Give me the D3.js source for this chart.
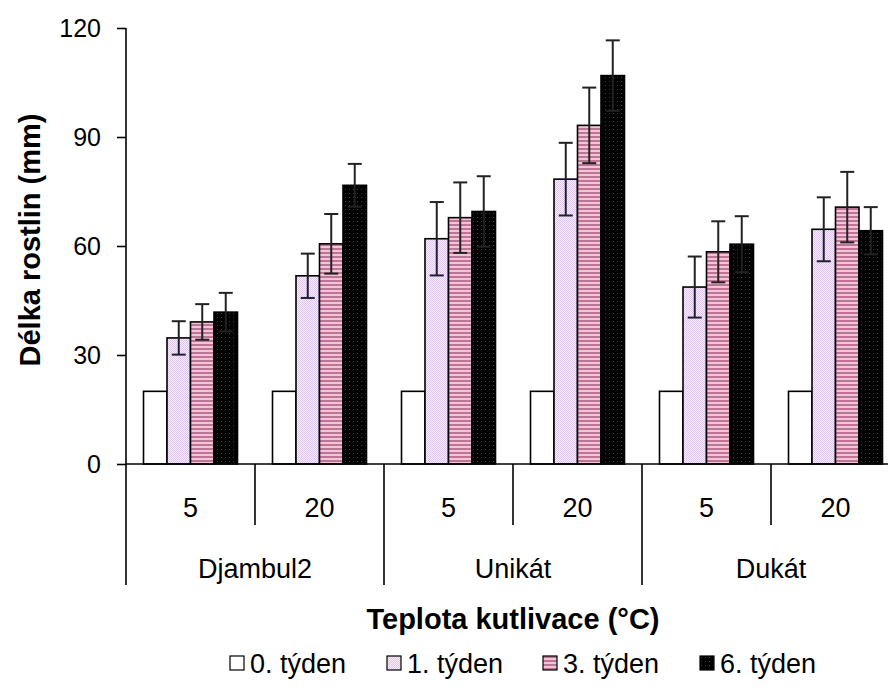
<!DOCTYPE html>
<html>
<head>
<meta charset="utf-8">
<script src="https://cdn.jsdelivr.net/npm/d3@7"></script>
<style>
  html, body { margin: 0; padding: 0; background: #fff; }
  svg { display: block; font-family: "Liberation Sans", Arial, sans-serif; }
</style>
</head>
<body>
<svg id="chart" width="888" height="699"></svg>
<script>
// Plant length by cultivar, cultivation temperature and week
const cultivars = ["Djambul2", "Unikát", "Dukát"];
const temps = ["5", "20"];
const series = ["0. týden", "1. týden", "3. týden", "6. týden"];

// one value per (cultivar, temperature) pair, in order
const week0 = [20, 20, 20, 20, 20, 20];
const week1 = [34.7, 51.8, 62.0, 78.4, 48.7, 64.6];
const week3 = [39.1, 60.6, 67.8, 93.2, 58.4, 70.7];
const week6 = [41.8, 76.7, 69.5, 106.9, 60.5, 64.2];

const err0 = [0, 0, 0, 0, 0, 0];
const err1 = [4.6, 6.1, 10.1, 10.0, 8.4, 8.8];
const err3 = [4.9, 8.2, 9.7, 10.4, 8.4, 9.7];
const err6 = [5.3, 5.9, 9.7, 9.7, 7.7, 6.5];

const yTicks = [0, 30, 60, 90, 120];

const yTitle = "Délka rostlin (mm)";
const xTitle = "Teplota kutlivace (°C)";

const values = [week0, week1, week3, week6];
const errors = [err0, err1, err3, err6];

const categories = [];
cultivars.forEach(c => temps.forEach(t => categories.push(c + "|" + t)));

const svg = d3.select("#chart");

// fill patterns
const defs = svg.append("defs");
const p1 = defs.append("pattern").attr("id", "pat1").attr("patternUnits", "userSpaceOnUse")
  .attr("width", 2).attr("height", 2);
p1.append("rect").attr("width", 2).attr("height", 2).attr("fill", "#f8eefb");
p1.append("rect").attr("width", 1).attr("height", 1).attr("fill", "#dec6ee");
p1.append("rect").attr("x", 1).attr("y", 1).attr("width", 1).attr("height", 1).attr("fill", "#dec6ee");

const p3 = defs.append("pattern").attr("id", "pat3").attr("patternUnits", "userSpaceOnUse")
  .attr("width", 4).attr("height", 4);
p3.append("rect").attr("width", 4).attr("height", 4).attr("fill", "#efc6d6");
p3.append("rect").attr("width", 4).attr("height", 2).attr("fill", "#bf7497");

const p6 = defs.append("pattern").attr("id", "pat6").attr("patternUnits", "userSpaceOnUse")
  .attr("width", 4).attr("height", 4);
p6.append("rect").attr("width", 4).attr("height", 4).attr("fill", "#000");
p6.append("rect").attr("x", 1).attr("y", 1).attr("width", 1).attr("height", 1).attr("fill", "#7a2038");

const fills = ["#ffffff", "url(#pat1)", "url(#pat3)", "url(#pat6)"];

// scales
const y = d3.scaleLinear().domain([0, 120]).range([464, 28]);
const x = d3.scaleBand().domain(categories).range([126, 900]).padding(0);
const xs = d3.scaleBand().domain(series).range([0, x.bandwidth()])
  .paddingInner(0).paddingOuter(0.745);
const xg = d3.scaleBand().domain(cultivars).range([126, 900]).padding(0);

// bars
const bars = [];
series.forEach((s, si) => categories.forEach((c, ci) => {
  bars.push({ s, si, c, v: values[si][ci], e: errors[si][ci] });
}));

svg.append("g").selectAll("rect").data(bars).join("rect")
  .attr("x", d => x(d.c) + xs(d.s))
  .attr("y", d => y(d.v))
  .attr("width", xs.bandwidth())
  .attr("height", d => y(0) - y(d.v))
  .attr("fill", d => fills[d.si])
  .attr("stroke", "#000")
  .attr("stroke-width", 1.6);

// error bars
const eb = svg.append("g").attr("stroke", "#222").attr("stroke-width", 2);
bars.filter(d => d.e > 0).forEach(d => {
  const cx = x(d.c) + xs(d.s) + xs.bandwidth() / 2;
  eb.append("line").attr("x1", cx).attr("x2", cx).attr("y1", y(d.v + d.e)).attr("y2", y(d.v - d.e));
  [d.v + d.e, d.v - d.e].forEach(v => {
    eb.append("line").attr("x1", cx - 7).attr("x2", cx + 7).attr("y1", y(v)).attr("y2", y(v));
  });
});

// y axis
const yAxis = d3.axisLeft(y).tickValues(yTicks).tickSize(9).tickPadding(16).tickFormat(d3.format("d"));
const ya = svg.append("g").attr("transform", "translate(126,0)").call(yAxis);
ya.select(".domain").attr("stroke", "#000").attr("stroke-width", 1.6).attr("d", "M0,28V464");
ya.selectAll(".tick line").attr("stroke", "#000").attr("stroke-width", 1.6);
ya.selectAll(".tick text").attr("font-size", 25).attr("fill", "#000")
  .attr("font-family", "'Liberation Sans', Arial, sans-serif");

// x axis baseline
svg.append("line").attr("x1", 126).attr("x2", 888).attr("y1", y(0)).attr("y2", y(0))
  .attr("stroke", "#000").attr("stroke-width", 1.6);

// category separators: short between temperatures, long between cultivars
const sep = svg.append("g").attr("stroke", "#000").attr("stroke-width", 1.6);
categories.forEach((c, i) => {
  const xx = x(c);
  const long = i % temps.length === 0;
  sep.append("line").attr("x1", xx).attr("x2", xx).attr("y1", y(0)).attr("y2", long ? 585 : 525);
});
sep.append("line").attr("x1", 900).attr("x2", 900).attr("y1", y(0)).attr("y2", 585);

// temperature labels
svg.append("g").selectAll("text").data(categories).join("text")
  .attr("x", d => x(d) + x.bandwidth() / 2)
  .attr("y", 517)
  .attr("text-anchor", "middle")
  .attr("font-size", 27)
  .text(d => d.split("|")[1]);

// cultivar labels
svg.append("g").selectAll("text").data(cultivars).join("text")
  .attr("x", d => xg(d) + xg.bandwidth() / 2)
  .attr("y", 578)
  .attr("text-anchor", "middle")
  .attr("font-size", 27)
  .text(d => d);

// axis titles
svg.append("text")
  .attr("x", 513).attr("y", 629)
  .attr("text-anchor", "middle")
  .attr("font-size", 29).attr("font-weight", "bold")
  .text(xTitle);

svg.append("text")
  .attr("transform", "translate(40,240) rotate(-90)")
  .attr("text-anchor", "middle")
  .attr("font-size", 29).attr("font-weight", "bold")
  .text(yTitle);

// legend
const legendX = [230, 387, 543, 700];
const lg = svg.append("g").selectAll("g").data(series).join("g")
  .attr("transform", (d, i) => `translate(${legendX[i]},664)`);
lg.append("rect").attr("x", 0).attr("y", -8).attr("width", 14).attr("height", 14)
  .attr("fill", (d, i) => fills[i]).attr("stroke", "#000").attr("stroke-width", 1.2);
lg.append("text").attr("x", 20).attr("y", 9).attr("font-size", 27).text(d => d);
</script>
</body>
</html>
